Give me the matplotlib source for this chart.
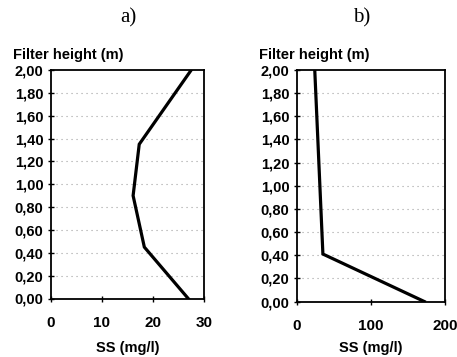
import matplotlib
matplotlib.use("Agg")
import matplotlib.pyplot as plt

# ---- data ----
height_a = [0.0, 0.45, 0.90, 1.35, 2.00]
ss_a = [26.9, 18.3, 16.1, 17.3, 27.5]

height_b = [0.0, 0.41, 2.00]
ss_b = [172, 35, 24]

yticks = [0.0, 0.2, 0.4, 0.6, 0.8, 1.0, 1.2, 1.4, 1.6, 1.8, 2.0]
ytick_labels = ["0,00", "0,20", "0,40", "0,60", "0,80", "1,00", "1,20",
                "1,40", "1,60", "1,80", "2,00"]
xticks_a = [0, 10, 20, 30]
xticks_b = [0, 100, 200]
panel_titles = ["a)", "b)"]
ylabel = "Filter height (m)"
xlabel = "SS (mg/l)"

plt.rcParams['font.family'] = ['Liberation Sans', 'DejaVu Sans']

W, H = 457, 357
fig = plt.figure(figsize=(W / 100, H / 100), dpi=100)


def px_axes(l, r, t, b):
    return fig.add_axes([l / W, 1 - b / H, (r - l) / W, (b - t) / H])


ax_a = px_axes(51, 204, 70, 298.5)
ax_b = px_axes(297, 445, 70, 301.5)

for ax, h, s, xt, xmax, title, tx, ylx in [
    (ax_a, height_a, ss_a, xticks_a, 30, panel_titles[0], 128, 13),
    (ax_b, height_b, ss_b, xticks_b, 200, panel_titles[1], 362, 259),
]:
    ax.plot(s, h, color='black', lw=2.3, solid_joinstyle='miter', zorder=3)
    ax.set_xlim(0, xmax)
    ax.set_ylim(0, 2.0)
    ax.set_yticks(yticks)
    ax.set_yticklabels(ytick_labels)
    ax.set_xticks(xt)
    ax.set_xticklabels([str(v) for v in xt])
    for t in yticks[1:-1]:
        ax.axhline(t, color='#a0a0a0', lw=0.8, ls=(0, (1, 3.5)), zorder=1)
    for sp in ax.spines.values():
        sp.set_linewidth(1.3)
        sp.set_color('black')
    ax.tick_params(axis='y', direction='inout', length=5, width=1,
                   pad=3, labelsize=10.5)
    ax.tick_params(axis='x', direction='inout', length=5, width=1,
                   pad=10, labelsize=11)
    for lab in ax.get_xticklabels() + ax.get_yticklabels():
        lab.set_fontweight('bold')
    ax.set_xlabel(xlabel, fontsize=10.5, fontweight='bold')
    bot = ax.get_position().y0 * H
    ax.xaxis.set_label_coords(0.5, -(348 - (H - bot)) / (ax.get_position().height * H))
    ax.xaxis.label.set_va('center')
    fig.text(tx / W, 1 - 18 / H, title, family='Liberation Serif',
             fontsize=15, ha='center', va='center')
    fig.text(ylx / W, 1 - 55 / H, ylabel, fontsize=10.5, fontweight='bold',
             ha='left', va='center')

fig.savefig('out.png', dpi=100)
